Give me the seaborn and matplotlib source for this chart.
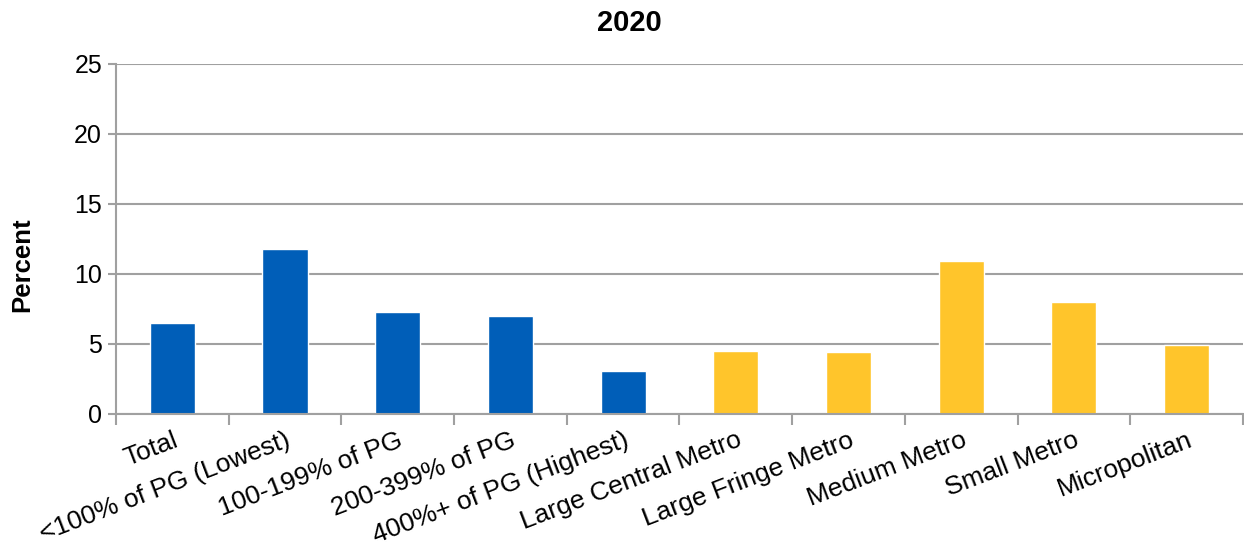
import matplotlib.pyplot as plt
import seaborn as sns
import pandas as pd
import numpy as np

categories = ["Total", "<100% of PG (Lowest)", "100-199% of PG", "200-399% of PG",
              "400%+ of PG (Highest)", "Large Central Metro", "Large Fringe Metro",
              "Medium Metro", "Small Metro", "Micropolitan"]
values = [6.5, 11.8, 7.3, 7.0, 3.1, 4.5, 4.4, 10.9, 8.0, 4.9]
groups = ["income"] * 5 + ["urban"] * 5

df = pd.DataFrame({"category": categories, "value": values, "group": groups})

sns.set_style("white")
plt.rcParams["font.family"] = ["Liberation Sans", "DejaVu Sans"]
plt.rcParams["text.color"] = "black"
plt.rcParams["xtick.color"] = "black"
plt.rcParams["ytick.color"] = "black"
plt.rcParams["axes.labelcolor"] = "black"

fig = plt.figure(figsize=(12.44, 5.46), dpi=100)
ax = fig.add_axes([0.0932, 0.2418, 0.906, 0.641])

sns.barplot(data=df, x="category", y="value", hue="group",
            palette={"income": "#005EB8", "urban": "#FFC52B"},
            saturation=1, dodge=False, width=0.4, legend=False, ax=ax)

ax.set_ylim(0, 25)
ax.set_xlim(-0.5, 9.5)
ax.set_yticks(range(0, 26, 5))
ax.yaxis.grid(True, color="#A0A0A0", lw=1.5)
ax.set_axisbelow(True)
for s in ["top", "right"]:
    ax.spines[s].set_visible(False)
for s in ["left", "bottom"]:
    ax.spines[s].set_color("#A0A0A0")
    ax.spines[s].set_linewidth(1.5)

ax.tick_params(axis="y", left=True, length=6, width=1.5, color="#A0A0A0",
               labelcolor="black", labelsize=18, pad=4)
ax.set_xticks(np.arange(-0.5, 10, 1), minor=True)
ax.tick_params(axis="x", which="minor", bottom=True, length=8, width=1.5, color="#A0A0A0")
ax.tick_params(axis="x", which="major", bottom=False, length=0, labelsize=19,
               labelcolor="black", pad=10)
ax.set_xticks(range(len(categories)))
ax.set_xticklabels(categories, rotation=21, ha="right", va="top", rotation_mode="anchor")

ax.set_xlabel("")
ax.set_ylabel("")
fig.text(0.018, 0.515, "Percent", fontsize=18.5, fontweight="bold", rotation=90,
         ha="center", va="center")
fig.text(0.506, 0.958, "2020", fontsize=21, fontweight="bold", ha="center", va="center")

fig.savefig("out.png", dpi=100)
